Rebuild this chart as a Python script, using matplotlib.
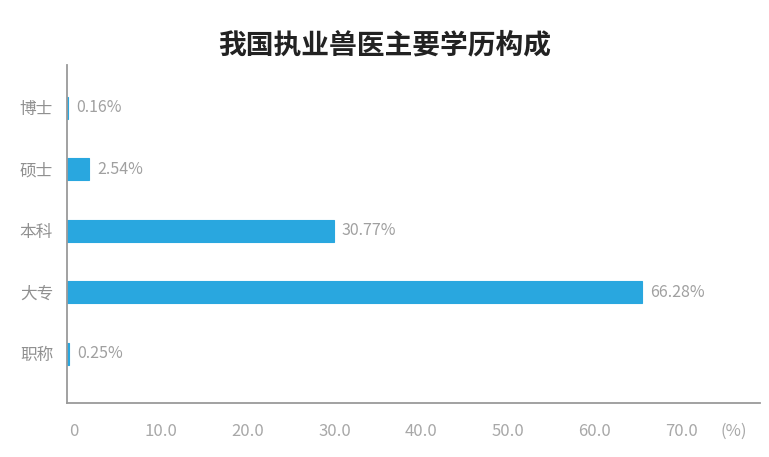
import matplotlib.pyplot as plt

plt.rcParams['font.family'] = ['Noto Sans CJK SC', 'DejaVu Sans']

# 数据
categories = ['博士', '硕士', '本科', '大专', '职称']
values = [0.16, 2.54, 30.77, 66.28, 0.25]
xticks = [0, 10, 20, 30, 40, 50, 60, 70]
xtick_labels = ['0', '10.0', '20.0', '30.0', '40.0', '50.0', '60.0', '70.0']
unit_label = '(%)'

fig = plt.figure(figsize=(7.69, 4.57), dpi=100)
ax = fig.add_axes([0.0871, 0.118, 0.901, 0.740])

pos = list(range(len(categories)))
ax.barh(pos, values, height=0.36, color='#29a7df',
        edgecolor='#29a7df', linewidth=0.8)

for p, v in zip(pos, values):
    ax.text(v + 0.9, p, f'{v:.2f}%', va='center', ha='left',
            fontsize=11.5, color='#a0a0a0')

ax.set_ylim(4.8, -0.7)
ax.set_xlim(0, 79.8)
ax.set_yticks(pos)
ax.set_yticklabels(categories, fontsize=12, color='#909090')
ax.set_xticks([x + 0.8 for x in xticks] + [76.8])
ax.set_xticklabels(xtick_labels + [unit_label], fontsize=12, color='#a8a8a8')
ax.tick_params(length=0)
ax.tick_params(axis='x', pad=14)
ax.tick_params(axis='y', pad=10)
for s in ['top', 'right']:
    ax.spines[s].set_visible(False)
for s in ['left', 'bottom']:
    ax.spines[s].set_color('#9a9a9a')
    ax.spines[s].set_linewidth(1.3)

fig.text(0.5, 0.9, '我国执业兽医主要学历构成', ha='center', va='center',
         fontsize=20, fontweight='bold', color='#222222')

fig.savefig('out.png', dpi=100)
